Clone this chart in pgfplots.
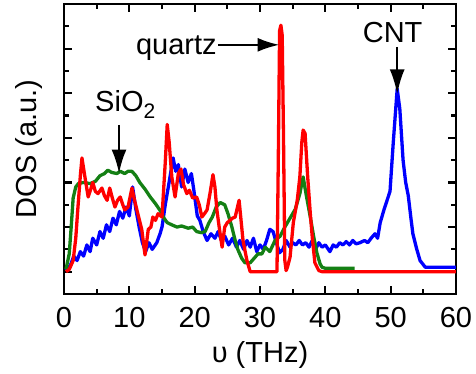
\documentclass[border=0pt]{standalone}
\usepackage{pgfplots}
\pgfplotsset{compat=1.18}
\usepackage{fontspec}
\setmainfont{Liberation Sans}
\usetikzlibrary{arrows.meta}
\definecolor{cblue}{RGB}{0,0,255}
\definecolor{cgreen}{RGB}{20,128,20}
\definecolor{cred}{RGB}{255,0,0}
\begin{document}
\begin{tikzpicture}
\fontsize{29}{34}\selectfont
\begin{axis}[
  at={(0,0)}, anchor=south west,
  scale only axis, width=392pt, height=290pt,
  xmin=0, xmax=60, ymin=0, ymax=13,
  xtick={0,10,...,60}, minor xtick={5,15,...,55},
  ytick={1,3,...,11}, minor ytick={2,4,...,12},
  yticklabels={},
  tick align=inside,
  major tick length=8pt, minor tick length=5pt,
  axis line style={line width=2.5pt},
  every tick/.style={black, line width=2.2pt},
  every minor tick/.style={black, line width=2.2pt},
  xticklabel style={font=\fontsize{29}{34}\selectfont, anchor=base, yshift=-33pt},
  /pgf/number format/assume math mode=true,
  xlabel={υ (THz)},
  ylabel={DOS (a.u.)},
  xlabel style={font=\fontsize{29}{34}\selectfont, at={(axis description cs:0.5,-0.2345)}, anchor=base},
  ylabel style={font=\fontsize{29}{34}\selectfont, at={(axis description cs:-0.069,0.5)}, anchor=base, rotate=0},
  clip=false,
]
\addplot[cblue, line width=3.3pt, line join=round] coordinates {
(0.3,1.05) (1.0,1.3) (1.5,1.7) (2.0,1.5) (2.5,1.9) (3.0,1.7) (3.5,2.2) (4.0,1.9)
(4.4,2.5) (5.0,2.2) (5.5,2.8) (6.0,2.5) (6.5,3.1) (7.0,2.8) (7.5,3.4) (8.0,3.1)
(8.5,3.7) (9.0,3.4) (9.5,3.9) (10.0,3.5) (10.5,4.8) (11.0,3.8) (11.5,3.0) (12.0,2.3)
(12.5,1.9) (13.0,2.3) (13.5,2.0) (14.2,2.3) (14.7,2.7) (15.0,3.0) (15.5,4.0) (16.2,5.2)
(16.7,6.1) (17.1,5.5) (17.5,5.8) (18.0,4.8) (18.5,5.6) (19.0,5.0) (19.5,5.4) (19.9,4.6)
(20.4,3.5) (20.8,3.3) (21.3,2.8) (21.9,2.4) (22.5,2.7) (23.1,2.5) (23.6,2.8) (24.1,2.4)
(24.6,2.6) (25.2,2.2) (25.8,2.5) (26.4,2.1) (26.9,2.4) (27.5,2.0) (28.0,2.4) (28.5,2.1)
(29.0,2.5) (29.5,1.9) (30.0,2.2) (30.5,2.0) (31.0,2.4) (31.5,2.9) (32.0,2.8) (32.5,2.3)
(33.0,1.85) (33.5,2.0) (34.0,2.4) (34.6,2.1) (35.0,2.3) (35.5,2.2) (36.0,2.4) (36.5,2.2)
(37.0,2.3) (37.5,2.1) (38.0,2.4) (38.5,2.0) (39.0,2.3) (39.5,2.1) (40.0,2.2) (40.7,1.9)
(41.2,2.2) (41.7,2.1) (42.2,2.3) (42.7,2.2) (43.2,2.35) (43.7,2.2) (44.2,2.4) (44.7,2.25)
(45.3,2.3) (46.0,2.4) (46.5,2.3) (47.0,2.5) (47.6,2.7) (48.0,2.5) (48.4,3.2) (49.0,3.8)
(49.9,4.6) (50.4,6.8) (51.0,9.2) (51.4,8.3) (51.9,6.0) (52.3,5.0) (52.7,4.4) (53.1,3.4)
(53.4,2.7) (54.0,2.0) (54.5,1.5) (55.3,1.2) (56,1.2) (60,1.2)
};
\addplot[cgreen, line width=3.3pt, line join=round] coordinates {
(0.3,1.1) (0.8,1.8) (1.1,3.0) (1.4,4.3) (1.8,4.8) (2.2,4.95) (3.0,5.0) (4.0,4.95)
(4.8,5.05) (5.5,5.3) (6.2,5.4) (6.7,5.55) (7.3,5.45) (8.1,5.4) (8.6,5.5) (9.3,5.4)
(9.8,5.5) (10.4,5.5) (11.0,5.3) (11.6,5.0) (12.4,4.7) (13.2,4.35) (14.0,4.05) (14.7,3.75)
(15.3,3.4) (15.8,3.2) (16.5,3.1) (17.3,3.0) (18.0,3.05) (19.0,2.95) (19.7,3.0) (20.3,2.8)
(21.0,2.75) (21.6,2.8) (22.2,3.2) (22.7,3.45) (23.3,3.9) (23.9,4.1) (24.6,4.0) (25.1,3.6)
(25.7,3.0) (26.2,2.4) (26.6,2.0) (27.2,1.6) (27.7,1.4) (28.5,1.4) (29.1,1.6) (29.7,1.8)
(30.3,1.8) (30.8,2.1) (31.5,1.9) (32.3,2.4) (33.1,2.6) (33.8,3.0) (34.6,3.4) (35.4,3.8)
(36.1,4.5) (36.6,5.25) (37.1,4.4) (37.7,3.45) (38.2,2.6) (38.7,1.85) (39.2,1.35) (39.5,1.2)
(40,1.15) (44.5,1.15)
};
\addplot[cred, line width=3.3pt, line join=round] coordinates {
(0.3,1.0) (0.8,1.1) (1.4,1.5) (1.8,2.5) (2.1,3.75) (2.5,5.3) (2.75,6.1) (3.2,5.25)
(3.7,4.35) (4.1,4.7) (4.4,5.0) (4.8,4.6) (5.2,4.5) (5.8,4.75) (6.2,4.4) (6.6,4.2)
(7.0,4.75) (7.4,4.3) (7.8,3.9) (8.2,4.2) (8.6,4.35) (9.0,4.0) (9.3,3.77) (9.8,3.9)
(10.4,4.75) (10.8,4.2) (11.3,3.6) (11.9,2.9) (12.4,1.75) (12.9,2.9) (13.3,3.0) (13.6,3.45)
(14.0,3.3) (14.4,3.6) (15.0,3.45) (15.5,5.9) (15.8,7.6) (16.1,6.8) (16.5,5.25) (17.0,4.35)
(17.5,5.4) (17.9,5.6) (18.3,4.9) (18.8,4.5) (19.2,4.65) (19.7,4.3) (20.3,4.35) (20.7,4.0)
(21.1,3.45) (21.5,3.6) (21.9,3.77) (22.4,4.6) (22.8,5.35) (23.1,4.8) (23.4,3.77) (23.8,2.9)
(24.2,2.1) (24.6,3.0) (25.0,3.2) (25.4,3.3) (25.8,3.4) (26.2,3.45) (26.8,4.2) (27.1,3.3)
(27.4,2.4) (28.0,1.5) (28.5,1.0) (32.6,1.0) (32.8,6.0) (33.0,11.8) (33.2,12.05) (33.4,11.6)
(33.6,7.0) (33.8,1.5) (34.0,1.05) (34.2,1.2) (34.6,1.65) (35.1,3.2) (35.7,4.2) (36.1,5.25)
(36.4,6.8) (36.6,7.35) (36.9,7.2) (37.3,5.25) (37.7,3.6) (38.0,2.55) (38.4,1.4) (39.0,1.05)
(39.5,1.0) (60,1.0)
};
\node[anchor=base west, inner sep=0pt] at (axis cs:4.75,8.16) {SiO\raisebox{-7pt}{\fontsize{21}{21}\selectfont 2}};
\draw[line width=2.6pt, -{Latex[length=24pt,width=15pt]}] (axis cs:8.42,7.58) -- (axis cs:8.42,5.4);
\node[anchor=base east, inner sep=0pt] at (axis cs:23.4,10.72) {quartz};
\draw[line width=2.6pt, -{Latex[length=22pt,width=14pt]}] (axis cs:23.6,11.17) -- (axis cs:33.0,11.17);
\node[anchor=base, inner sep=0pt] at (axis cs:50.3,11.26) {CNT};
\draw[line width=2.6pt, -{Latex[length=25pt,width=15pt]}] (axis cs:51.0,11.08) -- (axis cs:51.0,8.95);
\end{axis}
\pgfresetboundingbox
\path[use as bounding box] (-64pt,-79pt) rectangle (412pt,294pt);
\end{tikzpicture}
\end{document}
